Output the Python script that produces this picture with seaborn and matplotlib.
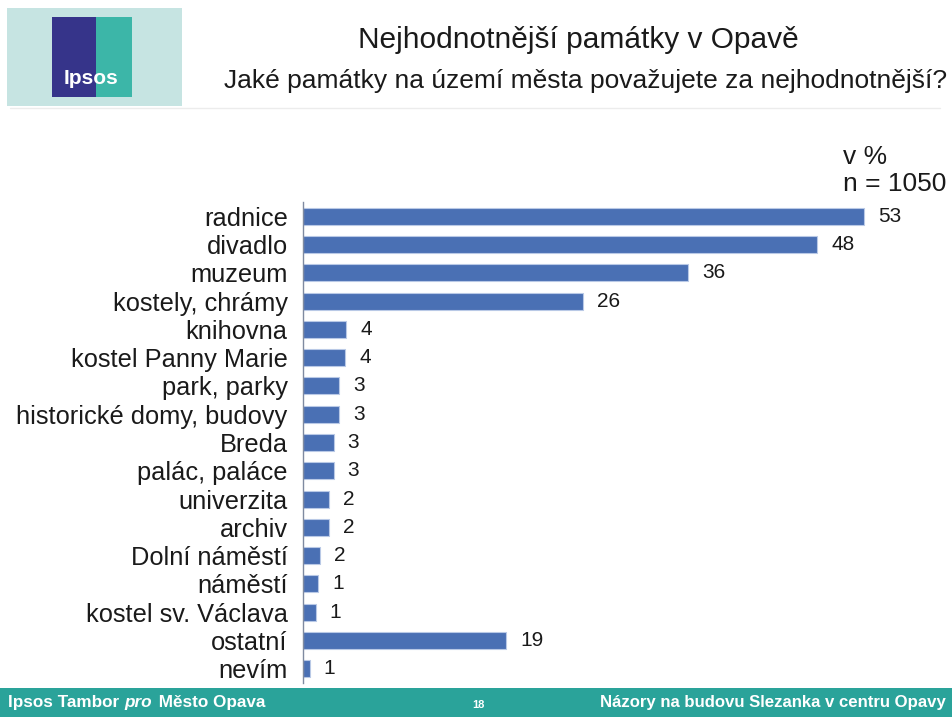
import matplotlib
matplotlib.use("Agg")
import matplotlib.pyplot as plt
import matplotlib.patches as mpatches
import numpy as np
import pandas as pd
import seaborn as sns

categories = ["radnice", "divadlo", "muzeum", "kostely, chrámy", "knihovna",
              "kostel Panny Marie", "park, parky", "historické domy, budovy",
              "Breda", "palác, paláce", "univerzita", "archiv", "Dolní náměstí",
              "náměstí", "kostel sv. Václava", "ostatní", "nevím"]
values = [53.0, 48.6, 36.4, 26.5, 4.1, 4.0, 3.4, 3.4, 2.9, 2.9, 2.5, 2.5,
          1.6, 1.45, 1.2, 19.2, 0.66]
value_labels = ["53", "48", "36", "26", "4", "4", "3", "3", "3", "3", "2", "2",
                "2", "1", "1", "19", "1"]

sns.set_theme(style="white")
plt.rcParams['font.family'] = ['Liberation Sans', 'DejaVu Sans']

df = pd.DataFrame({"kategorie": categories, "hodnota": values})

fig = plt.figure(figsize=(9.52, 7.17), dpi=100)
ax = fig.add_axes([303/952, 1-683/717, 635/952, 481/717])

sns.barplot(data=df, x="hodnota", y="kategorie", orient="h", color="#4a70b4",
            saturation=1, width=0.6, edgecolor="#b9c9e6", linewidth=0.8, ax=ax)

ax.bar_label(ax.containers[0], labels=value_labels, padding=10, fontsize=15,
             color="#1a1a1a")

ax.set_xlim(0, 60)
ax.set_ylim(len(categories) - 0.5, -0.5)
ax.set_xlabel("")
ax.set_ylabel("")
ax.set_xticks([])
for s in ["top", "right", "bottom"]:
    ax.spines[s].set_visible(False)
ax.spines["left"].set_color("#7f8aa0")
ax.spines["left"].set_linewidth(1.0)
ax.tick_params(axis="y", which="major", length=0, pad=11, labelsize=18.3,
               labelcolor="#1a1a1a")
ax.set_yticks(np.arange(-0.5, len(categories)), minor=True)
ax.tick_params(axis="y", which="minor", length=5, color="#7f8aa0", width=1)

ax.text(843, 717-157, "v %", transform=None, fontsize=19, color="#1a1a1a",
        ha="left", va="center")
ax.text(843, 717-184, "n = 1050", transform=None, fontsize=19, color="#1a1a1a",
        ha="left", va="center")

# titles
fig.text(578/952, 1-40/717, "Nejhodnotnější památky v Opavě", fontsize=21.5,
         ha="center", va="center", color="#1a1a1a")
fig.text(947/952, 1-81/717,
         "Jaké památky na území města považujete za nejhodnotnější?",
         fontsize=19, ha="right", va="center", color="#1a1a1a")
fig.add_artist(plt.Line2D([10/952, 940/952], [1-108/717, 1-108/717],
                          color="#ececec", lw=1))

# logo
fig.add_artist(mpatches.Rectangle((7/952, 1-106/717), 175/952, 98/717,
                                  color="#c6e4e2", lw=0))
fig.add_artist(mpatches.Rectangle((52/952, 1-97/717), 44/952, 80/717,
                                  color="#36348a", lw=0))
fig.add_artist(mpatches.Rectangle((96/952, 1-97/717), 36/952, 80/717,
                                  color="#3cb6a8", lw=0))
fig.text(91/952, 1-78/717, "Ipsos", fontsize=15, fontweight="bold",
         color="white", ha="center", va="center")

# footer
fig.add_artist(mpatches.Rectangle((0, 0), 1, 29/717, color="#2aa39a", lw=0))
renderer = fig.canvas.get_renderer()
x = 8
for part, style in [("Ipsos Tambor ", "normal"), ("pro", "italic"),
                    (" Město Opava", "normal")]:
    t = fig.text(x/952, 14/717, part, fontsize=12.3, fontweight="bold",
                 fontstyle=style, color="white", ha="left", va="center")
    x = t.get_window_extent(renderer).x1 + (2 if style == "italic" else 0)
fig.text(478/952, 12/717, "18", fontsize=8, fontweight="bold",
         color="white", ha="center", va="center")
fig.text(946/952, 14/717, "Názory na budovu Slezanka v centru Opavy",
         fontsize=12.1, fontweight="bold", color="white", ha="right",
         va="center")

fig.savefig("out.png", dpi=100)
